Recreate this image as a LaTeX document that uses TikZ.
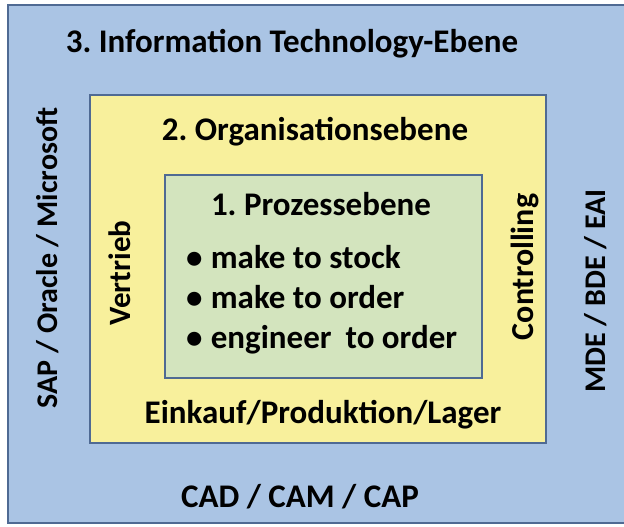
\documentclass[tikz,border=0pt]{standalone}
\usepackage{fontspec}
\setmainfont{Carlito}
\frenchspacing
\usetikzlibrary{positioning}
\definecolor{colorIT}{HTML}{AAC4E4}
\definecolor{colorOrg}{HTML}{F8F09C}
\definecolor{colorProz}{HTML}{D3E4BE}
\definecolor{colorRand}{HTML}{4F6A93}

\begin{document}
\begin{tikzpicture}[x=1pt,y=-1pt,every node/.append style={align=center,font=\bfseries\fontsize{33}{40}\selectfont},layer/.style={draw=colorRand, line width=2.5pt, rectangle, inner sep=0pt},lbl/.style={inner sep=0pt, anchor=base},side/.style={lbl, rotate=90, font=\bfseries\fontsize{31}{40}\selectfont},]
    \useasboundingbox (0,0) rectangle (624,527);
    \node [layer, fill=colorIT, minimum width=620pt, minimum height=518pt] (IT) at (318,264) {};
    \node [layer, fill=colorOrg, minimum width=456pt, minimum height=348pt] (Org) at (318,269) {};
    \node [layer, fill=colorProz, minimum width=317pt, minimum height=203pt] (Proz) at (323.5,276.5) {};
    % Ebene 3
    \node [lbl] (tIT) at (292,53) {3. Information Technology-Ebene};
    \node [side, font=\bfseries\fontsize{30}{40}\selectfont] (sap) at (57,258) {SAP / Oracle / Microsoft};
    \node [side, font=\bfseries\fontsize{30}{40}\selectfont] (mde) at (605,291) {MDE / BDE / EAI};
    \node [lbl] (cad) at (300,507) {CAD / CAM / CAP};
    % Ebene 2
    \node [lbl] (tOrg) at (315,140) {2. Organisationsebene};
    \node [side] (vertrieb) at (130,273) {Vertrieb};
    \node [side, font=\bfseries\fontsize{32}{40}\selectfont] (controlling) at (533,267) {Controlling};
    \node [lbl] (einkauf) at (323,423) {Einkauf/Produktion/Lager};
    % Ebene 1
    \node [lbl] (tProz) at (321,215) {1. Prozessebene};
    \node [lbl, anchor=base west] (mts) at (186,268) {•\hspace{0.25em}make to stock};
    \node [lbl, anchor=base west] (mto) at (186,308) {•\hspace{0.25em}make to order};
    \node [lbl, anchor=base west] (eto) at (186,348) {•\hspace{0.25em}engineer\hspace{0.2em} to order};
\end{tikzpicture}
\end{document}
